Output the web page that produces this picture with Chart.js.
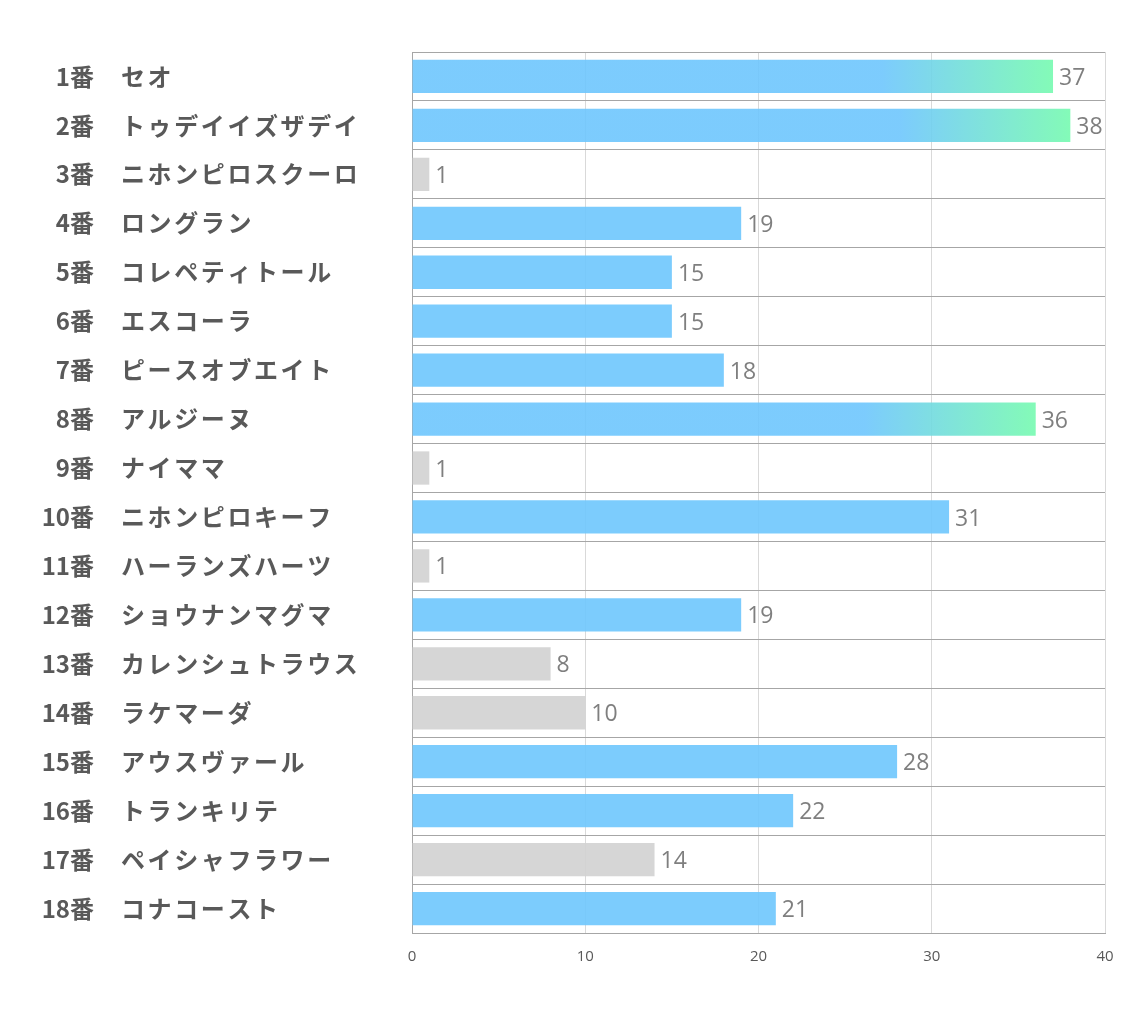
<!DOCTYPE html>
<html>
<head>
<meta charset="utf-8">
<script src="https://cdn.jsdelivr.net/npm/chart.js@4"></script>
<style>
  html, body { margin: 0; padding: 0; background: #fff; }
  #wrap { width: 1134px; height: 1020px; }
</style>
</head>
<body>
<div id="wrap"><canvas id="horseChart"></canvas></div>
<script>
const gateNumbers = ["1番", "2番", "3番", "4番", "5番", "6番", "7番", "8番", "9番",
  "10番", "11番", "12番", "13番", "14番", "15番", "16番", "17番", "18番"];
const horseNames = ["セオ", "トゥデイイズザデイ", "ニホンピロスクーロ", "ロングラン", "コレペティトール",
  "エスコーラ", "ピースオブエイト", "アルジーヌ", "ナイママ", "ニホンピロキーフ", "ハーランズハーツ",
  "ショウナンマグマ", "カレンシュトラウス", "ラケマーダ", "アウスヴァール", "トランキリテ",
  "ペイシャフラワー", "コナコースト"];
const points = [37, 38, 1, 19, 15, 15, 18, 36, 1, 31, 1, 19, 8, 10, 28, 22, 14, 21];
// top = gradient, mid = blue, low = gray
const barKinds = ["top", "top", "low", "mid", "mid", "mid", "mid", "top", "low",
  "mid", "low", "mid", "low", "low", "mid", "mid", "low", "mid"];
const xTicks = [0, 10, 20, 30, 40];

const BLUE = "rgba(110,198,253,0.9)";
const GREEN = "rgba(118,250,176,0.9)";
const GRAY = "rgba(210,210,210,0.9)";

const barColor = (ctx) => {
  const kind = barKinds[ctx.dataIndex];
  if (kind === "low") return GRAY;
  if (kind === "mid") return BLUE;
  const chart = ctx.chart;
  if (!chart.chartArea) return BLUE;
  const end = chart.scales.x.getPixelForValue(points[ctx.dataIndex]);
  const g = chart.ctx.createLinearGradient(end - 190, 0, end, 0);
  g.addColorStop(0, BLUE);
  g.addColorStop(0.1, BLUE);
  g.addColorStop(1, GREEN);
  return g;
};

const sideLabels = {
  id: "sideLabels",
  afterDraw(chart) {
    const c = chart.ctx;
    const y = chart.scales.y;
    c.save();
    c.fillStyle = "#595959";
    c.font = "bold 24px 'Noto Sans CJK JP'";
    c.textBaseline = "middle";
    gateNumbers.forEach((num, i) => {
      const py = y.getPixelForValue(i);
      c.letterSpacing = "0px";
      c.textAlign = "right";
      c.fillText(num, 94, py);
      c.letterSpacing = "2.6px";
      c.textAlign = "left";
      c.fillText(horseNames[i], 121, py);
    });
    c.restore();
  }
};

const valueLabels = {
  id: "valueLabels",
  afterDatasetsDraw(chart) {
    const c = chart.ctx;
    const meta = chart.getDatasetMeta(0);
    c.save();
    c.fillStyle = "#7f7f7f";
    c.font = "23px 'Open Sans'";
    c.textAlign = "left";
    c.textBaseline = "middle";
    meta.data.forEach((bar, i) => {
      c.fillText(String(points[i]), bar.x + 6, bar.y + 2);
    });
    c.restore();
  }
};

new Chart(document.getElementById("horseChart"), {
  type: "bar",
  data: {
    labels: horseNames,
    datasets: [{
      data: points,
      backgroundColor: barColor,
      borderWidth: 0,
      barPercentage: 0.68,
      categoryPercentage: 1
    }]
  },
  options: {
    indexAxis: "y",
    responsive: true,
    maintainAspectRatio: false,
    animation: false,
    layout: { padding: { top: 52, right: 29, left: 0, bottom: 0 } },
    plugins: {
      legend: { display: false },
      tooltip: { enabled: false }
    },
    scales: {
      x: {
        min: 0,
        max: 40,
        afterBuildTicks: (axis) => { axis.ticks = xTicks.map(v => ({ value: v })); },
        afterFit: (axis) => { axis.height = 87; },
        grid: { color: "#d9d9d9", lineWidth: 1, drawTicks: false },
        border: { color: "#a6a6a6" },
        ticks: {
          color: "#595959",
          font: { family: "'Open Sans'", size: 15 },
          padding: 15
        }
      },
      y: {
        afterFit: (axis) => { axis.width = 412; },
        grid: { color: "#a6a6a6", lineWidth: 1, drawTicks: false },
        border: { color: "#a6a6a6" },
        ticks: { display: false }
      }
    }
  },
  plugins: [sideLabels, valueLabels]
});
</script>
</body>
</html>
